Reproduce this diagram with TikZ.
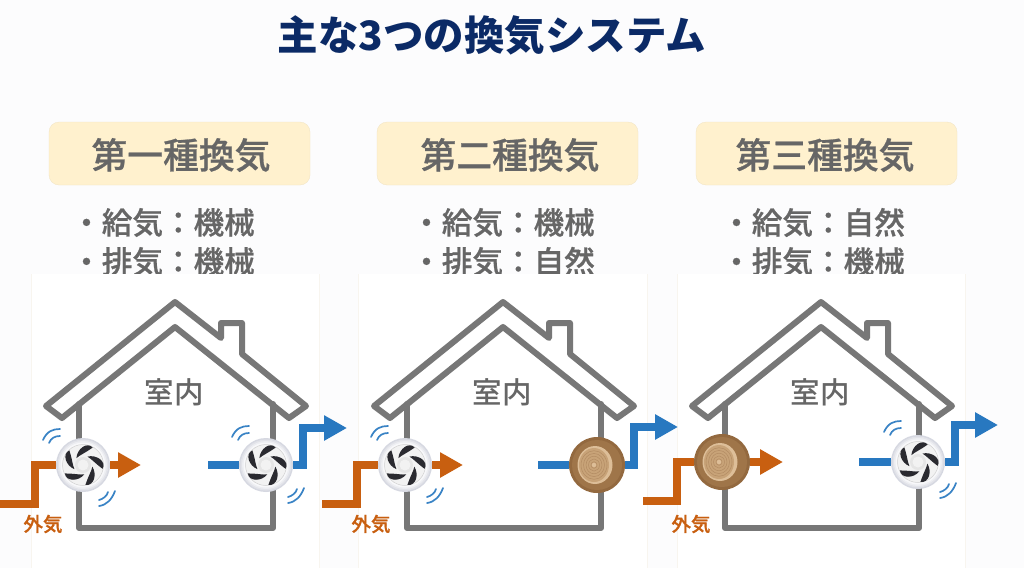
\documentclass[tikz,border=0pt]{standalone}
\usepackage{fontspec}
\usetikzlibrary{arrows.meta}
\setmainfont{Noto Sans CJK JP}
\newfontfamily\jpm[FakeBold=0.7]{Noto Sans CJK JP Medium}
\newfontfamily\jpl{Noto Sans CJK JP Medium}
\definecolor{bgc}{HTML}{FCFCFD}
\definecolor{titlec}{HTML}{0B2A66}
\definecolor{textc}{HTML}{666666}
\definecolor{boxc}{HTML}{FFF1CE}
\definecolor{housec}{HTML}{777777}
\definecolor{orangec}{HTML}{C85F10}
\definecolor{bluec}{HTML}{2878C0}
\definecolor{panelc}{HTML}{F8F5EF}
\definecolor{fana}{HTML}{D6D8E1}
\definecolor{fanb}{HTML}{E2E3E9}
\definecolor{fanc}{HTML}{EDEEF2}
\definecolor{fand}{HTML}{2A2A30}
\definecolor{venta}{HTML}{93693F}
\definecolor{ventb}{HTML}{9F7549}
\definecolor{ventc}{HTML}{DDBE98}
\definecolor{ventd}{HTML}{C8A378}
\definecolor{vente}{HTML}{B48D64}
\tikzset{
 titletext/.style={font=\fontsize{40.5}{44}\bfseries\selectfont,text=titlec,inner sep=0},
 headbox/.style={rectangle,rounded corners=10pt,fill=boxc,draw=boxc!94!black,line width=.3pt,minimum width=261pt,minimum height=63pt,inner sep=0},
 headtext/.style={font=\jpm\fontsize{35.8}{40}\selectfont,text=textc,inner sep=0},
 listtext/.style={font=\jpm\fontsize{30.6}{39}\selectfont,text=textc,inner sep=0,align=left},
 roomtext/.style={font=\jpl\fontsize{29.5}{32}\selectfont,text=textc,inner sep=0},
 airtext/.style={font=\jpm\fontsize{19.5}{22}\selectfont,text=orangec,inner sep=0},
 panel/.style={fill=white},
 houseline/.style={draw=housec,line width=6pt,line join=round,line cap=round},
 flow/.style={line width=8pt,line join=miter},
 outair/.style={flow,draw=orangec},
 exair/.style={flow,draw=bluec},
 headarrow/.style={-{Triangle[length=23pt,width=24pt]}},
 wave/.style={draw=bluec!92!white,line width=1.7pt,line cap=round},
 fanbase/.style={circle,minimum size=54pt,inner sep=0,draw=none,fill=fana},
 ventbase/.style={circle,minimum size=56pt,inner sep=0,draw=none,fill=venta},
 house/.pic={
  \draw[houseline] (175,302)--(221,338)--(221,323)--(242,323)--(242,354)--(306,406)--(289,418)--(175,327)--(62,418)--(46,406)--cycle;
  \draw[houseline] (79,404)--(79,528)--(273,528)--(273,404);
 },
 fanblades/.pic={
  \fill[fanb] (0,0) circle (25.5);
  \fill[fanc] (0,0) circle (24);
  \fill[white!60!fanc] (0,0) circle (22.5);
  \fill[black!5] (0,0) circle (20.5);
  \draw[black!18,line width=.5pt] (0,0) circle (20.5);
  \foreach \a in {6,78,150,222,294}{
   \fill[fand] ({\a+5}:20) .. controls ({\a-15}:24) and ({\a-45}:17) .. ({\a-68}:9.5)
     .. controls ({\a-42}:10.5) and ({\a-15}:12) .. cycle;
  }
  \fill[black!10] (0,0) circle (8);
  \fill[black!5] (0,0) circle (5.5);
 },
 ventface/.pic={
  \fill[ventb] (0,0) circle (25);
  \fill[ventc] (-2,0) ellipse (17.5 and 19);
  \fill[ventd] (-3,0) ellipse (15 and 17);
  \foreach \r in {3,5.5,8,10.5,13}{
   \draw[vente,line width=.55pt] (-3,0) ellipse ({\r} and {\r*1.1});
  }
  \fill[ventc] (-3,0) circle (2.2);
 },
 waves/.pic={
  \draw[wave] (-34,-28) .. controls (-30,-37) and (-24,-39) .. (-17,-39);
  \draw[wave] (-28,-25) .. controls (-26,-30) and (-22,-32) .. (-17,-32);
  \draw[wave] (22,38) .. controls (30,37) and (35,31) .. (38,23);
  \draw[wave] (22,32) .. controls (26,31) and (30,28) .. (31,24);
 }
}
\begin{document}
\begin{tikzpicture}[x=1pt,y=-1pt]
\path[use as bounding box,fill=bgc] (0,0) rectangle (1024,568);
\node[titletext] (title) at (492,35) {主な3つの換気システム};

\node[headbox] (b1) at (179.5,153.5) {};
\node[headbox] (b2) at (507.5,153.5) {};
\node[headbox] (b3) at (826.5,153.5) {};
\node[headtext] (h1) at (181,155) {第一種換気};
\node[headtext] (h2) at (510,155) {第二種換気};
\node[headtext] (h3) at (825,155) {第三種換気};

\node[listtext,anchor=west] (l1) at (71,242) {・給気：機械\\・排気：機械};
\node[listtext,anchor=west] (l2) at (411,242) {・給気：機械\\・排気：自然};
\node[listtext,anchor=west] (l3) at (721,242) {・給気：自然\\・排気：機械};

\fill[panel] (31,274) rectangle (319,569);
\fill[panel] (358,274) rectangle (647,569);
\fill[panel] (677,274) rectangle (965,569);
\draw[panelc,line width=.6pt] (31,274)--(31,568) (319,274)--(319,568) (358,274)--(358,568) (647,274)--(647,568) (677,274)--(677,568) (965,274)--(965,568);

\pic at (0,0) {house};
\pic at (328,0) {house};
\pic at (646,0) {house};

\node[roomtext] (r1) at (174,392) {室内};
\node[roomtext] (r2) at (502,392) {室内};
\node[roomtext] (r3) at (820,392) {室内};
\node[airtext] (a1) at (43,524) {外気};
\node[airtext] (a2) at (371,524) {外気};
\node[airtext] (a3) at (691,524) {外気};

% house 1
\node[fanbase] (f1) at (83,465) {};
\pic at (f1.center) {fanblades};
\pic at (77,468) {waves};
\node[fanbase] (f2) at (266,465) {};
\pic at (f2.center) {fanblades};
\pic at (266,465) {waves};
\coordinate (o1s) at (0,504);
\coordinate (o1m) at (35,504);
\coordinate (o1t) at (35,465);
\coordinate (o1e) at (141,465);
\draw[outair] (o1s)--(o1m)--(o1t)--(f1.west);
\draw[outair,headarrow] (f1.east)--(o1e);
\coordinate (e1s) at (208,465);
\coordinate (e1m) at (303,465);
\coordinate (e1t) at (303,428);
\coordinate (e1e) at (347,428);
\draw[exair] (e1s)--(f2.west);
\draw[exair,headarrow] (f2.east)--(e1m)--(e1t)--(e1e);

% house 2
\node[fanbase] (f3) at (405,465) {};
\pic at (f3.center) {fanblades};
\pic at (405,465) {waves};
\node[ventbase] (v1) at (597,465) {};
\pic at (v1.center) {ventface};
\coordinate (o2s) at (322,504);
\coordinate (o2m) at (357,504);
\coordinate (o2t) at (357,465);
\coordinate (o2e) at (463,465);
\draw[outair] (o2s)--(o2m)--(o2t)--(f3.west);
\draw[outair,headarrow] (f3.east)--(o2e);
\coordinate (e2s) at (538,465);
\coordinate (e2m) at (634,465);
\coordinate (e2t) at (634,427);
\coordinate (e2e) at (678,427);
\draw[exair] (e2s)--(v1.west);
\draw[exair,headarrow] (v1.east)--(e2m)--(e2t)--(e2e);

% house 3
\node[ventbase] (v2) at (722,462) {};
\pic at (v2.center) {ventface};
\node[fanbase] (f4) at (918,462) {};
\pic at (f4.center) {fanblades};
\pic at (918,460) {waves};
\coordinate (o3s) at (643,501);
\coordinate (o3m) at (677,501);
\coordinate (o3t) at (677,462);
\coordinate (o3e) at (783,462);
\draw[outair] (o3s)--(o3m)--(o3t)--(v2.west);
\draw[outair,headarrow] (v2.east)--(o3e);
\coordinate (e3s) at (859,462);
\coordinate (e3m) at (955,462);
\coordinate (e3t) at (955,425);
\coordinate (e3e) at (998,425);
\draw[exair] (e3s)--(f4.west);
\draw[exair,headarrow] (f4.east)--(e3m)--(e3t)--(e3e);
\end{tikzpicture}
\end{document}
